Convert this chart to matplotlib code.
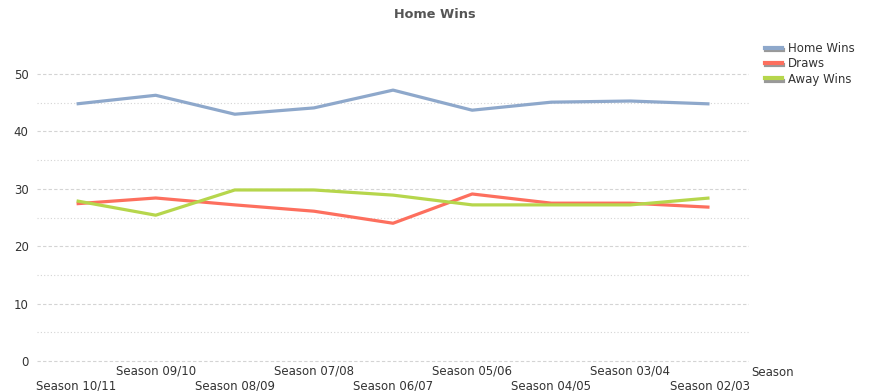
import matplotlib
matplotlib.use("Agg")
import matplotlib.pyplot as plt
import matplotlib.patheffects as pe
from matplotlib.lines import Line2D

# data (percent of matches)
seasons = ["Season 10/11", "Season 09/10", "Season 08/09", "Season 07/08", "Season 06/07",
           "Season 05/06", "Season 04/05", "Season 03/04", "Season 02/03"]
home_wins = [44.8, 46.3, 43.0, 44.1, 47.2, 43.7, 45.1, 45.3, 44.8]
draws = [27.4, 28.4, 27.2, 26.1, 24.0, 29.1, 27.5, 27.5, 26.8]
away_wins = [27.9, 25.4, 29.8, 29.8, 28.9, 27.2, 27.2, 27.2, 28.4]

colors = ["#8ea8cb", "#fd6f5e", "#b6d64c"]
names = ["Home Wins", "Draws", "Away Wins"]

fig = plt.figure(figsize=(8.69, 3.91), dpi=100)
ax = fig.add_axes([0.0426, 0.0724, 0.8194, 0.8116])

x = list(range(len(seasons)))
for vals, c in zip([home_wins, draws, away_wins], colors):
    ax.plot(x, vals, color=c, lw=2.3, solid_capstyle="butt", zorder=3)

ax.set_xlim(-0.5, len(seasons) - 0.5)
ax.set_ylim(-0.3, 55)
ax.set_yticks([0, 10, 20, 30, 40, 50])
ax.set_yticks([5, 15, 25, 35, 45], minor=True)
ax.grid(True, which="major", axis="y", color="#d4d4d4", ls=(0, (3, 2)), lw=0.8)
ax.grid(True, which="minor", axis="y", color="#d4d4d4", ls=(0, (1, 2)), lw=0.8)
ax.set_axisbelow(True)
for s in ax.spines.values():
    s.set_visible(False)

ax.set_xticks(x)
ax.set_xticklabels([("\n" + s) if i % 2 == 0 else s for i, s in enumerate(seasons)],
                   fontsize=8.5, color="#333333", linespacing=1.15)
ax.tick_params(axis="x", length=0, pad=1.5)
ax.tick_params(axis="y", length=0, pad=6, labelsize=8.5, labelcolor="#333333")
ax.tick_params(which="minor", length=0)

fig.text(0.5, 0.962, "Home Wins", ha="center", va="center", fontsize=9.3,
         color="#555555", fontweight="bold")
fig.text(0.864, 0.048, "Season", ha="left", va="center", fontsize=8.5, color="#333333")

handles = [Line2D([], [], color=c, lw=3,
                  path_effects=[pe.SimpleLineShadow(offset=(1, -1.5), shadow_color="#999999", alpha=1),
                                pe.Normal()])
           for c in colors]
fig.legend(handles, names, loc="upper left", bbox_to_anchor=(0.875, 0.905), frameon=False,
           fontsize=8.5, handlelength=1.4, handletextpad=0.5, labelspacing=0.2,
           labelcolor="#333333", borderaxespad=0)

fig.savefig("out.png", dpi=100)
